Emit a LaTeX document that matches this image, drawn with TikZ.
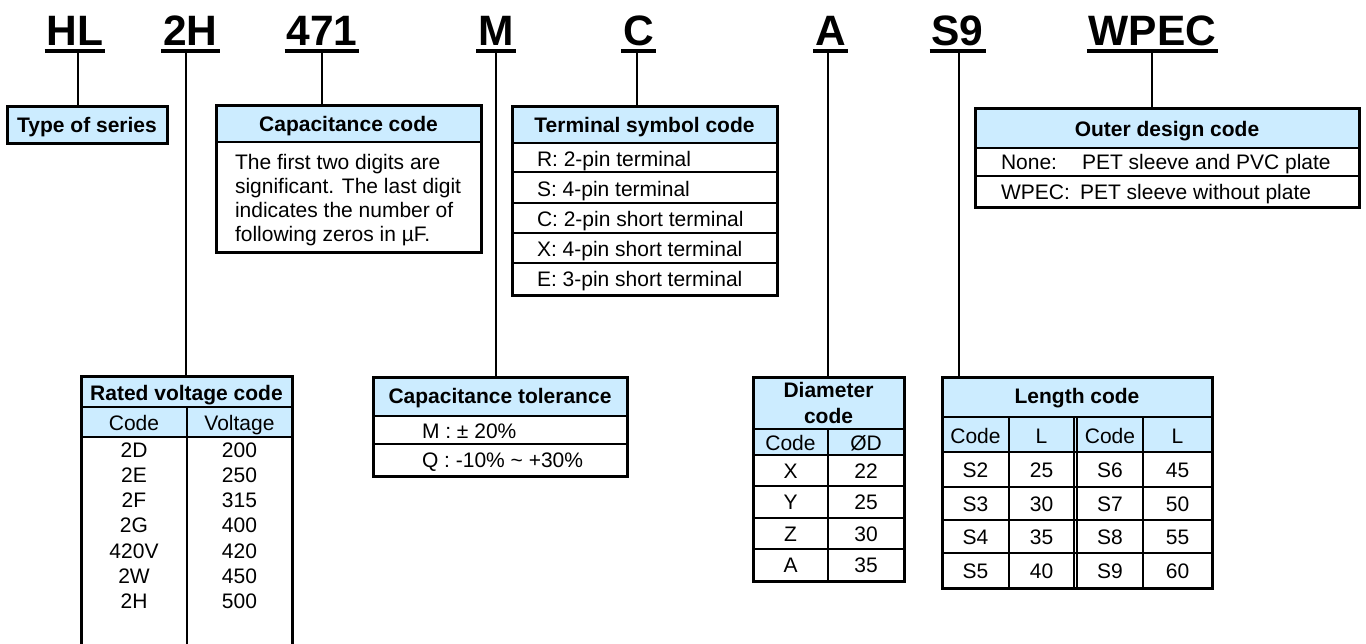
\documentclass[tikz,border=0pt]{standalone}
\usepackage{fontspec}
\setmainfont{Liberation Sans}
\definecolor{hblue}{RGB}{204,236,255}
\tikzset{
 txt/.style={inner sep=0pt, outer sep=0pt, anchor=base, font=\fontsize{21}{24}\selectfont},
 hd/.style={txt, font=\fontsize{21}{24}\selectfont\bfseries},
 lt/.style={txt, anchor=base west},
 codeletter/.style={inner sep=0pt, outer sep=0pt, anchor=base, font=\fontsize{42.5}{48}\selectfont\bfseries},
 uline/.style={line width=4pt},
 conn/.style={line width=1.5pt},
 frame/.style={draw, line width=3pt, inner sep=0pt, outer sep=0pt},
 hrule/.style={line width=2.5pt},
 trule/.style={line width=1.2pt},
}
\begin{document}
\begin{tikzpicture}[x=1pt,y=-1pt]
\useasboundingbox (0,0) rectangle (1366,643);
\clip (0,0) rectangle (1366,643);
% ---------- code letters ----------
\node[codeletter] (tHL) at (75,45) {HL};
\node[codeletter] (t2H) at (190.5,45) {2H};
\node[codeletter] (t471) at (322,45) {471};
\node[codeletter] (tM) at (496,45) {M};
\node[codeletter] (tC) at (638.5,45) {C};
\node[codeletter] (tA) at (830.5,45) {A};
\node[codeletter] (tS9) at (957.5,45) {S9};
\node[codeletter] (tWPEC) at (1152.5,45) {WPEC};
\foreach \n in {HL,2H,471,M,C,A,S9,WPEC}
  \draw[uline] ([xshift=-2pt,yshift=-6pt]t\n.base west) -- ([xshift=2pt,yshift=-6pt]t\n.base east);

% ---------- Type of series ----------
\fill[hblue] (7,106) rectangle (167,143);
\node[frame, minimum width=160, minimum height=37] (ts) at (87,124.5) {};
\node[hd] (tsT) at (87,132) {Type of series};

% ---------- Capacitance code ----------
\fill[hblue] (216,105) rectangle (481,142);
\draw[hrule] (216,142) -- (481,142);
\node[frame, minimum width=265, minimum height=147] (cc) at (348.5,178.5) {};
\node[hd] (ccT) at (348.5,131) {Capacitance code};
\node[lt] (cc1) at (235,169) {The first two digits are};
\node[lt] (cc2) at (235,193) {significant. The last digit};
\node[lt] (cc3) at (235,217) {indicates the number of};
\node[lt] (cc4) at (235,241) {following zeros in µF.};

% ---------- Terminal symbol code ----------
\fill[hblue] (512,106) rectangle (777,143);
\draw[hrule] (512,143) -- (777,143);
\foreach \yy in {172,203,233,263} \draw[trule] (512,\yy) -- (777,\yy);
\node[frame, minimum width=265, minimum height=189] (tm) at (644.5,200.5) {};
\node[hd] (tmT) at (644.5,132) {Terminal symbol code};
\node[lt] (tm1) at (537,166) {R: 2-pin terminal};
\node[lt] (tm2) at (537,196) {S: 4-pin terminal};
\node[lt] (tm3) at (537,226) {C: 2-pin short terminal};
\node[lt] (tm4) at (537,256) {X: 4-pin short terminal};
\node[lt] (tm5) at (537,286) {E: 3-pin short terminal};

% ---------- Outer design code ----------
\fill[hblue] (975,108) rectangle (1359,148);
\draw[hrule] (975,148) -- (1359,148);
\draw[trule] (975,176) -- (1359,176);
\node[frame, minimum width=384, minimum height=99] (od) at (1167,157.5) {};
\node[hd] (odT) at (1167,136) {Outer design code};
\node[lt] (od1a) at (1001,169) {None:};
\node[lt] (od1b) at (1082,169) {PET sleeve and PVC plate};
\node[lt] (od2a) at (1001,199) {WPEC:};
\node[lt] (od2b) at (1080,199) {PET sleeve without plate};

% ---------- Rated voltage code ----------
\fill[hblue] (81,376) rectangle (292,437);
\draw[trule] (81,407) -- (292,407);
\draw[hrule] (81,437) -- (292,437);
\draw[trule] (187,407) -- (187,660);
\node[frame, minimum width=211, minimum height=284] (rv) at (186.5,518) {};
\node[hd] (rvT) at (186.5,400) {Rated voltage code};
\node[txt] (rvC) at (134,430) {Code};
\node[txt] (rvV) at (239.5,430) {Voltage};
\foreach \c/\v [count=\i from 0] in {2D/200,2E/250,2F/315,2G/400,420V/420,2W/450,2H/500}{
  \node[txt] (rvc\i) at (134,457+25.3*\i) {\c};
  \node[txt] (rvv\i) at (239.5,457+25.3*\i) {\v};
}

% ---------- Capacitance tolerance ----------
\fill[hblue] (373,377) rectangle (627,416);
\draw[hrule] (373,416) -- (627,416);
\draw[trule] (373,444) -- (627,444);
\node[frame, minimum width=254, minimum height=99] (tol) at (500,426.5) {};
\node[hd] (tolT) at (500,403) {Capacitance tolerance};
\node[lt] (tol1) at (422,438) {M : ± 20\%};
\node[lt] (tol2) at (422,467) {Q : -10\% \char"007E{} +30\%};

% ---------- Diameter code ----------
\fill[hblue] (753,377) rectangle (904,455);
\draw[hrule] (753,429) -- (904,429);
\draw[hrule] (753,455) -- (904,455);
\foreach \yy in {486,518,549} \draw[trule] (753,\yy) -- (904,\yy);
\draw[trule] (828,429) -- (828,581);
\node[frame, minimum width=151, minimum height=204] (dia) at (828.5,479) {};
\node[hd] (diaT1) at (828.5,397) {Diameter};
\node[hd] (diaT2) at (828.5,423) {code};
\node[txt] (diaC) at (790.5,450) {Code};
\node[txt] (diaD) at (866,450) {ØD};
\foreach \c/\v/\yy in {X/22/478,Y/25/509.5,Z/30/541,A/35/572.5}{
  \node[txt] (dc\c) at (790.5,\yy) {\c};
  \node[txt] (dv\c) at (866,\yy) {\v};
}

% ---------- Length code ----------
\fill[hblue] (942,377) rectangle (1212,452);
\draw[hrule] (942,417) -- (1212,417);
\draw[hrule] (942,452) -- (1212,452);
\foreach \yy in {487,520,553} \draw[trule] (942,\yy) -- (1212,\yy);
\foreach \xx in {1009,1074,1077,1143} \draw[trule] (\xx,417) -- (\xx,588);
\node[frame, minimum width=270, minimum height=211] (len) at (1077,482.5) {};
\node[hd] (lenT) at (1077,403) {Length code};
\node[txt] (lc1) at (975.5,443) {Code};
\node[txt] (ll1) at (1041.5,443) {L};
\node[txt] (lc2) at (1110,443) {Code};
\node[txt] (ll2) at (1177.5,443) {L};
\foreach \a/\b/\c/\d/\yy in {S2/25/S6/45/477,S3/30/S7/50/511,S4/35/S8/55/544,S5/40/S9/60/578}{
  \node[txt] at (975.5,\yy) {\a};
  \node[txt] at (1041.5,\yy) {\b};
  \node[txt] at (1110,\yy) {\c};
  \node[txt] at (1177.5,\yy) {\d};
}

% ---------- connectors ----------
\coordinate (pHL) at (78,53);
\coordinate (p2H) at (186,53);
\coordinate (p471) at (322,53);
\coordinate (pM) at (496,53);
\coordinate (pC) at (637,53);
\coordinate (pA) at (828,53);
\coordinate (pS9) at (959,53);
\coordinate (pWPEC) at (1152,53);
\draw[conn] (pHL) -- (pHL |- ts.north);
\draw[conn] (p2H) -- (p2H |- rv.north);
\draw[conn] (p471) -- (p471 |- cc.north);
\draw[conn] (pM) -- (pM |- tol.north);
\draw[conn] (pC) -- (pC |- tm.north);
\draw[conn] (pA) -- (pA |- dia.north);
\draw[conn] (pS9) -- (pS9 |- len.north);
\draw[conn] (pWPEC) -- (pWPEC |- od.north);
\end{tikzpicture}
\end{document}
